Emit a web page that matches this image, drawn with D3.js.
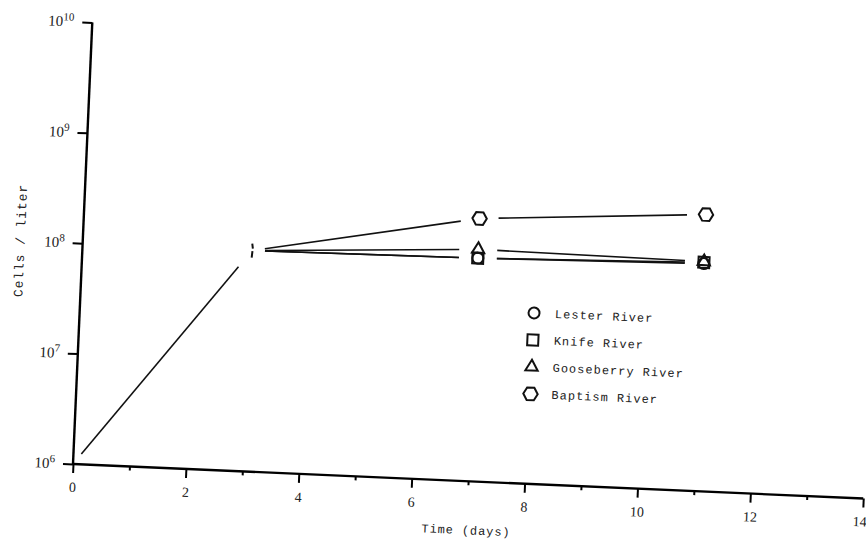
<!DOCTYPE html>
<html>
<head>
<meta charset="utf-8">
<script src="https://cdn.jsdelivr.net/npm/d3@7"></script>
<style>
  html, body { margin: 0; padding: 0; background: #fff; }
  svg { display: block; }
  .mono { font-family: "Liberation Mono", "DejaVu Sans Mono", monospace; fill: #222; }
  .num { font-family: "Liberation Serif", "DejaVu Serif", serif; fill: #222; }
</style>
</head>
<body>
<svg id="chart" width="866" height="540"></svg>
<script>
// Sampling days after inoculation
const days = [3, 7, 11];

// Cell density (cells per liter) for each river water
const lester     = [1.0e8, 1.05e8, 1.15e8];
const knife      = [1.0e8, 1.05e8, 1.18e8];
const gooseberry = [1.0e8, 1.26e8, 1.20e8];
const baptism    = [1.0e8, 2.40e8, 3.20e8];

// Common growth phase before the river waters were added
const growthDays  = [0, 3];
const growthCells = [1.0e6, 1.0e8];

const seriesNames = ["Lester River", "Knife River", "Gooseberry River", "Baptism River"];
const seriesShapes = ["circle", "square", "triangle", "hexagon"];

// Axis ticks
const xMajorTicks = [0, 2, 4, 6, 8, 10, 12, 14];
const xMinorTicks = [1, 3, 5, 7, 9, 11, 13];
const yTickExponents = [6, 7, 8, 9, 10];

const svg = d3.select("#chart");

// The whole plot sits on a slightly tilted frame
const frame = svg.append("g").attr("transform", "translate(73,464) rotate(2.5)");

const x = d3.scaleLinear().domain([0, 14]).range([0, 791]);
const y = d3.scaleLog().domain([1e6, 1e10]).range([0, -442]);

// ---- x axis ----
const xAxisMajor = frame.append("g")
  .call(d3.axisBottom(x).tickValues(xMajorTicks).tickSize(9).tickPadding(9).tickFormat(d3.format("d")));
xAxisMajor.select(".domain").attr("stroke-width", 2.4).attr("d", `M0,0H${x(14)}`);
xAxisMajor.selectAll(".tick line").attr("stroke-width", 2);
xAxisMajor.selectAll(".tick text")
  .attr("class", "num")
  .attr("font-size", 14)
  .attr("fill", "#222")
  .filter(d => d === 14)
  .attr("text-anchor", "end")
  .attr("x", 4);

const xAxisMinor = frame.append("g")
  .call(d3.axisBottom(x).tickValues(xMinorTicks).tickSize(4).tickFormat(""));
xAxisMinor.select(".domain").remove();
xAxisMinor.selectAll(".tick line").attr("stroke-width", 2);

// ---- y axis ----
const yAxis = frame.append("g")
  .call(d3.axisLeft(y).tickValues(yTickExponents.map(e => Math.pow(10, e))).tickSize(10).tickFormat(""));
yAxis.select(".domain").attr("stroke-width", 2.4).attr("d", `M0,${y(1e6)}V${y(1e10)}`);
yAxis.selectAll(".tick line").attr("stroke-width", 2);

const yLabels = frame.append("g");
yTickExponents.forEach(e => {
  const t = yLabels.append("text")
    .attr("class", "num")
    .attr("text-anchor", "end")
    .attr("x", -18)
    .attr("y", y(Math.pow(10, e)) + 5)
    .attr("font-size", 15);
  t.append("tspan").text("10");
  t.append("tspan").attr("font-size", 11).attr("dy", -6).text(String(e));
});

// ---- axis titles ----
frame.append("text")
  .attr("class", "mono")
  .attr("x", x(7))
  .attr("y", 53)
  .attr("text-anchor", "middle")
  .attr("font-size", 12)
  .attr("letter-spacing", 0.9)
  .text("Time (days)");

frame.append("text")
  .attr("class", "mono")
  .attr("transform", `translate(-58,${y(1e8)}) rotate(-90)`)
  .attr("text-anchor", "middle")
  .attr("font-size", 13)
  .attr("letter-spacing", 0.9)
  .text("Cells / liter");

// ---- marker shapes ----
function hexPath(r) {
  const pts = d3.range(6).map(k => {
    const a = k * Math.PI / 3;
    return [r * Math.cos(a), r * Math.sin(a)];
  });
  return "M" + pts.map(p => p.join(",")).join("L") + "Z";
}
function shapePath(shape) {
  if (shape === "circle") return d3.symbol(d3.symbolCircle, 95)();
  if (shape === "square") return d3.symbol(d3.symbolSquare, 121)();
  if (shape === "triangle") return d3.symbol(d3.symbolTriangle, 66)();
  return hexPath(7.2);
}

// ---- lines between plotted points, stopped short of the markers ----
function gapFor(day, incoming) {
  if (day === 0) return 13;
  if (day === 3) return incoming ? 21 : 13;
  return 19;
}
function drawTrimmed(g, xs, ys) {
  for (let i = 0; i < xs.length - 1; i++) {
    const x0 = x(xs[i]), y0 = y(ys[i]);
    const x1 = x(xs[i + 1]), y1 = y(ys[i + 1]);
    const dx = x1 - x0, dy = y1 - y0;
    const len = Math.hypot(dx, dy);
    const g0 = gapFor(xs[i], false) / len;
    const g1 = gapFor(xs[i + 1], true) / len;
    g.append("line")
      .attr("x1", x0 + dx * g0).attr("y1", y0 + dy * g0)
      .attr("x2", x1 - dx * g1).attr("y2", y1 - dy * g1)
      .attr("stroke", "#111")
      .attr("stroke-width", 1.6);
  }
}

const lines = frame.append("g");
drawTrimmed(lines, growthDays, growthCells);
const allSeries = [lester, knife, gooseberry, baptism];
allSeries.forEach(vals => drawTrimmed(lines, days, vals));

// Small mark where all series share the same starting density
const gx = x(growthDays[1]), gy = y(growthCells[1]);
frame.append("path")
  .attr("d", `M${gx},${gy - 7}L${gx + 0.8},${gy - 2}M${gx + 0.5},${gy + 0.5}L${gx},${gy + 7}`)
  .attr("stroke", "#111").attr("stroke-width", 2).attr("fill", "none");

// Markers for days after the first sample
const markers = frame.append("g");
[3, 1, 0, 2].forEach(si => {
  days.forEach((d, i) => {
    if (i === 0) return;
    markers.append("path")
      .attr("d", shapePath(seriesShapes[si]))
      .attr("transform", `translate(${x(d)},${y(allSeries[si][i])})`)
      .attr("fill", "none")
      .attr("stroke", "#111")
      .attr("stroke-width", 2);
  });
});

// ---- legend ----
const legend = frame.append("g").attr("transform", "translate(454,-171)");
seriesNames.forEach((name, i) => {
  const row = legend.append("g").attr("transform", `translate(0,${i * 27})`);
  row.append("path")
    .attr("d", shapePath(seriesShapes[i]))
    .attr("fill", "none")
    .attr("stroke", "#111")
    .attr("stroke-width", 2);
  row.append("text")
    .attr("class", "mono")
    .attr("x", 21)
    .attr("y", 4)
    .attr("font-size", 12)
    .attr("letter-spacing", 1)
    .text(name);
});
</script>
</body>
</html>
